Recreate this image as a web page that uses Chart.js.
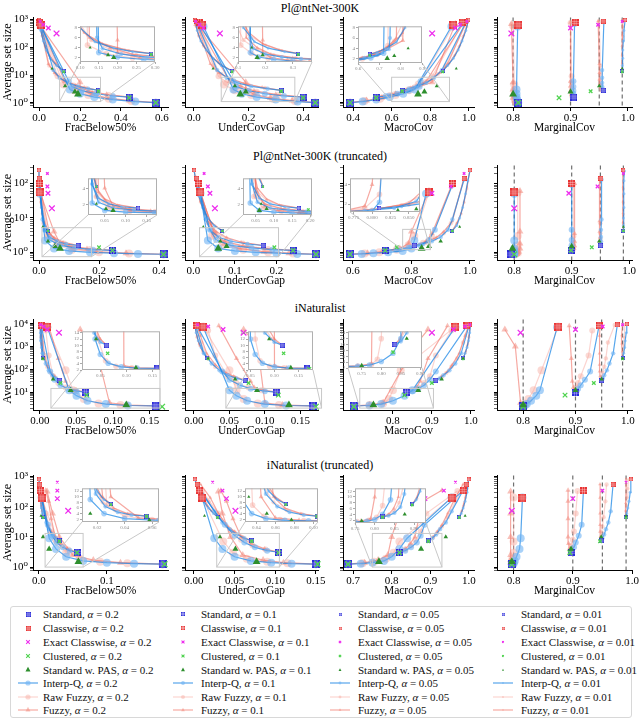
<!DOCTYPE html>
<html>
<head>
<meta charset="utf-8">
<script src="https://cdn.jsdelivr.net/npm/chart.js@4.4.1/dist/chart.umd.min.js"></script>
<style>
  body { margin: 0; background: #fff; }
  #fig { position: relative; width: 640px; height: 719px; overflow: hidden; font-family: 'Liberation Serif', 'DejaVu Serif', serif; }
  #fig canvas { position: absolute; }
  .rowtitle { position: absolute; left: 0; width: 640px; text-align: center; font-size: 12px; line-height: 14px; }
  #legend { position: absolute; left: 10px; top: 606px; width: 622px; height: 112px; border: 1px solid #d8d8d8; border-radius: 3px; box-sizing: border-box; }
  .leg { position: absolute; font-size: 11px; line-height: 12px; white-space: nowrap; color: #111; }
</style>
</head>
<body>
<div id="fig"><div id="legend"></div></div>
<script>
const FONT = "'Liberation Serif', 'DejaVu Serif', serif";

const alphas = [0.2, 0.1, 0.05, 0.01];
const targetCov = [0.8, 0.9, 0.95, 0.99];
const metricNames = ['FracBelow50%', 'UnderCovGap', 'MacroCov', 'MarginalCov'];
const rowTitles = ['Pl@ntNet-300K', 'Pl@ntNet-300K (truncated)', 'iNaturalist', 'iNaturalist (truncated)'];
const legendNames = ['Standard', 'Classwise', 'Exact Classwise', 'Clustered', 'Standard w. PAS', 'Interp-Q', 'Raw Fuzzy', 'Fuzzy'];

// every row: [avg set size, FracBelow50%, UnderCovGap, MacroCov, MarginalCov]
// single methods: one row per alpha (0.2, 0.1, 0.05, 0.01); curves: one list per alpha

// ---- Pl@ntNet-300K
const pnStandard = [[1.0,0.57,0.445,0.385,0.809],[1.6,0.44,0.40,0.52,0.906],[2.8,0.29,0.32,0.655,0.957],[14,0.12,0.14,0.865,0.99]];
const pnClasswise = [[650,0.008,0.03,0.92,0.809],[780,0.004,0.02,0.965,0.908],[880,0.002,0.01,0.985,0.957],[980,0.0,0.004,0.998,0.995]];
const pnExact = [[316,0.085,0.095,0.81,0.797],[500,0.045,0.035,0.93,0.90],[650,0.02,0.02,0.955,0.948],[850,0.005,0.006,0.99,0.99]];
const pnClustered = [[1.0,0.57,0.445,0.385,0.809],[1.5,0.44,0.40,0.52,0.88],[2.6,0.29,0.32,0.655,0.935],[13,0.12,0.14,0.865,0.99]];
const pnPAS = [[2.0,0.19,0.17,0.737,0.80],[2.5,0.175,0.19,0.77,0.90],[4.0,0.127,0.15,0.835,0.95],[17,0.063,0.07,0.935,0.99]];
const pnInterp = [
  [[1.0,0.57,0.445,0.385,0.809],[1.1,0.47,0.38,0.45,0.808],[1.3,0.36,0.30,0.52,0.807],[1.6,0.27,0.23,0.59,0.806],[2.1,0.20,0.175,0.66,0.806],[3.0,0.15,0.145,0.72,0.806],[560,0.01,0.035,0.91,0.808]],
  [[1.6,0.44,0.40,0.52,0.906],[1.75,0.36,0.33,0.57,0.905],[2.1,0.28,0.26,0.63,0.905],[2.7,0.21,0.20,0.69,0.905],[3.8,0.16,0.155,0.745,0.905],[6,0.145,0.145,0.75,0.905],[700,0.004,0.02,0.965,0.907]],
  [[2.8,0.29,0.32,0.655,0.956],[3.2,0.24,0.27,0.69,0.956],[3.9,0.19,0.21,0.73,0.955],[5.2,0.14,0.16,0.78,0.955],[8,0.10,0.12,0.82,0.955],[15,0.07,0.085,0.86,0.955],[800,0.002,0.01,0.985,0.958]],
  [[14,0.12,0.14,0.865,0.99],[22,0.085,0.10,0.89,0.99],[40,0.055,0.07,0.92,0.991],[80,0.035,0.045,0.945,0.991],[170,0.02,0.025,0.965,0.992],[400,0.008,0.012,0.985,0.993],[950,0.0,0.004,0.998,0.995]]
];
const pnRaw = [
  [[1.0,0.57,0.445,0.385,0.806],[1.15,0.45,0.37,0.46,0.804],[1.4,0.34,0.29,0.54,0.803],[1.9,0.24,0.21,0.62,0.802],[2.8,0.17,0.15,0.69,0.802],[4.5,0.12,0.11,0.74,0.802],[600,0.005,0.02,0.92,0.80]],
  [[1.6,0.44,0.40,0.52,0.904],[1.9,0.34,0.31,0.59,0.903],[2.5,0.25,0.23,0.66,0.902],[3.6,0.18,0.17,0.72,0.902],[5.5,0.13,0.12,0.77,0.902],[9,0.09,0.09,0.81,0.902],[760,0.002,0.01,0.97,0.90]],
  [[2.8,0.29,0.32,0.655,0.954],[3.4,0.23,0.26,0.70,0.953],[4.5,0.17,0.20,0.75,0.952],[6.5,0.12,0.14,0.80,0.952],[11,0.08,0.10,0.84,0.952],[22,0.05,0.07,0.88,0.952],[850,0.001,0.008,0.99,0.95]],
  [[14,0.12,0.14,0.865,0.99],[25,0.08,0.095,0.895,0.99],[50,0.05,0.06,0.925,0.99],[110,0.03,0.035,0.95,0.99],[250,0.015,0.018,0.97,0.991],[550,0.005,0.008,0.99,0.992],[980,0.0,0.003,0.998,0.993]]
];
const pnFuzzy = [
  [[1.0,0.57,0.445,0.385,0.806],[1.2,0.44,0.36,0.47,0.803],[1.5,0.33,0.28,0.55,0.80],[2.0,0.26,0.22,0.62,0.80],[3.0,0.20,0.19,0.70,0.80],[5.5,0.20,0.19,0.81,0.80],[700,0.0,0.01,0.93,0.797]],
  [[1.6,0.44,0.40,0.52,0.904],[2.0,0.33,0.30,0.60,0.902],[2.7,0.24,0.22,0.67,0.90],[4.0,0.18,0.17,0.73,0.90],[6.0,0.125,0.13,0.78,0.90],[800,0.0,0.01,0.975,0.90]],
  [[2.8,0.29,0.32,0.655,0.954],[3.6,0.22,0.25,0.71,0.952],[4.8,0.16,0.19,0.76,0.951],[7,0.11,0.14,0.81,0.95],[12,0.075,0.09,0.85,0.95],[25,0.045,0.06,0.89,0.95],[900,0.0,0.006,0.99,0.948]],
  [[14,0.12,0.14,0.865,0.99],[27,0.078,0.09,0.90,0.99],[55,0.048,0.058,0.93,0.99],[120,0.028,0.033,0.955,0.99],[280,0.013,0.016,0.975,0.99],[600,0.004,0.007,0.99,0.99],[1000,0.0,0.002,0.999,0.99]]
];

// ---- Pl@ntNet-300K (truncated)
const ptStandard = [[0.88,0.415,0.295,0.59,0.795],[1.14,0.245,0.24,0.71,0.899],[1.58,0.13,0.168,0.81,0.95],[4.2,0.03,0.07,0.94,0.99]];
const ptClasswise = [[55,0.002,0.017,0.86,0.80],[100,0.001,0.012,0.94,0.90],[140,0.001,0.008,0.98,0.951],[240,0.0,0.002,1.0,0.99]];
const ptExact = [[19,0.043,0.052,0.805,0.80],[52,0.03,0.04,0.87,0.895],[82,0.028,0.035,0.935,0.945],[195,0.028,0.026,0.98,0.99]];
const ptClustered = [[0.88,0.415,0.295,0.59,0.80],[1.14,0.245,0.24,0.71,0.899],[1.4,0.20,0.195,0.75,0.935],[4.2,0.03,0.07,0.94,0.99]];
const ptPAS = [[1.3,0.07,0.06,0.835,0.797],[1.5,0.053,0.08,0.86,0.90],[2.1,0.03,0.065,0.90,0.948],[5.5,0.013,0.024,0.965,0.99]];
const ptInterp = [
  [[0.88,0.415,0.295,0.59,0.80],[0.9,0.33,0.25,0.63,0.80],[0.95,0.25,0.20,0.67,0.80],[1.0,0.17,0.15,0.72,0.80],[1.1,0.10,0.10,0.77,0.80],[1.3,0.05,0.06,0.80,0.80],[2.2,0.02,0.035,0.81,0.80],[50,0.003,0.017,0.85,0.80]],
  [[1.14,0.245,0.24,0.71,0.90],[1.2,0.18,0.19,0.75,0.90],[1.35,0.12,0.14,0.79,0.90],[1.6,0.07,0.09,0.83,0.90],[2.3,0.035,0.055,0.86,0.90],[4.5,0.02,0.04,0.88,0.90],[90,0.001,0.012,0.94,0.90]],
  [[1.58,0.13,0.168,0.81,0.951],[1.75,0.09,0.13,0.84,0.951],[2.1,0.06,0.09,0.87,0.951],[2.8,0.035,0.06,0.90,0.951],[4.5,0.02,0.04,0.925,0.951],[9,0.012,0.03,0.94,0.952],[130,0.001,0.008,0.98,0.952]],
  [[4.2,0.03,0.07,0.94,0.99],[6,0.02,0.05,0.955,0.99],[10,0.013,0.035,0.965,0.99],[20,0.008,0.022,0.975,0.991],[50,0.004,0.012,0.985,0.991],[120,0.002,0.006,0.993,0.991],[230,0.0,0.002,1.0,0.992]]
];
const ptRaw = [
  [[0.88,0.415,0.295,0.59,0.802],[0.92,0.30,0.24,0.64,0.803],[1.0,0.20,0.18,0.69,0.805],[1.2,0.11,0.12,0.75,0.806],[1.6,0.06,0.07,0.79,0.806],[3,0.03,0.045,0.81,0.806],[55,0.002,0.017,0.86,0.806]],
  [[1.14,0.245,0.24,0.71,0.901],[1.25,0.17,0.18,0.76,0.902],[1.45,0.11,0.13,0.80,0.903],[1.9,0.06,0.08,0.84,0.903],[3,0.03,0.05,0.87,0.903],[95,0.001,0.012,0.94,0.903]],
  [[1.58,0.13,0.168,0.81,0.95],[1.9,0.085,0.12,0.85,0.95],[2.5,0.05,0.08,0.88,0.95],[3.6,0.03,0.055,0.91,0.95],[7,0.015,0.035,0.935,0.95],[135,0.001,0.008,0.98,0.95]],
  [[4.2,0.03,0.07,0.94,0.99],[7,0.018,0.045,0.955,0.99],[13,0.011,0.03,0.97,0.99],[28,0.006,0.018,0.98,0.99],[70,0.003,0.009,0.99,0.99],[240,0.0,0.002,1.0,0.99]]
];
const ptFuzzy = [
  [[0.88,0.415,0.295,0.59,0.805],[0.95,0.29,0.23,0.65,0.807],[1.05,0.19,0.17,0.70,0.808],[1.3,0.11,0.11,0.76,0.81],[1.8,0.07,0.075,0.79,0.81],[4,0.05,0.05,0.80,0.81],[60,0.002,0.015,0.86,0.81]],
  [[1.14,0.245,0.24,0.71,0.902],[1.3,0.16,0.17,0.77,0.904],[1.55,0.10,0.12,0.81,0.905],[2.1,0.06,0.075,0.85,0.905],[3.5,0.035,0.05,0.87,0.905],[100,0.001,0.01,0.94,0.905]],
  [[1.58,0.13,0.168,0.81,0.949],[2.0,0.08,0.115,0.85,0.949],[2.7,0.05,0.08,0.885,0.949],[4,0.03,0.055,0.91,0.948],[8,0.015,0.035,0.94,0.948],[150,0.001,0.007,0.98,0.948]],
  [[4.2,0.03,0.07,0.94,0.99],[7.5,0.017,0.043,0.957,0.989],[14,0.01,0.028,0.97,0.989],[30,0.005,0.016,0.98,0.989],[80,0.002,0.008,0.99,0.989],[250,0.0,0.002,1.0,0.989]]
];

// ---- iNaturalist
const inStandard = [[2.5,0.158,0.168,0.70,0.80],[10,0.062,0.116,0.835,0.90],[33,0.027,0.072,0.91,0.95],[300,0.004,0.019,0.98,0.99]];
const inClasswise = [[7400,0.010,0.013,0.96,0.867],[8200,0.002,0.004,0.99,0.945],[8800,0.001,0.002,0.996,0.98],[9500,0.0,0.001,0.999,0.998]];
const inExact = [[4000,0.026,0.07,0.90,0.795],[5500,0.01,0.041,0.955,0.90],[7500,0.005,0.02,0.985,0.952],[9000,0.001,0.005,0.997,0.99]];
const inClustered = [[2.3,0.167,0.172,0.70,0.80],[7.4,0.064,0.119,0.83,0.88],[25,0.028,0.077,0.90,0.935],[290,0.004,0.02,0.98,0.99]];
const inPAS = [[2.7,0.118,0.134,0.75,0.80],[12,0.042,0.089,0.865,0.90],[37,0.018,0.058,0.925,0.95],[300,0.004,0.02,0.98,0.99]];
const inInterp = [
  [[2.5,0.158,0.168,0.70,0.80],[2.6,0.12,0.13,0.74,0.803],[3.0,0.09,0.10,0.77,0.807],[4.2,0.065,0.075,0.80,0.815],[7,0.05,0.06,0.83,0.825],[12,0.04,0.05,0.85,0.832],[7000,0.01,0.013,0.96,0.865]],
  [[10,0.062,0.116,0.835,0.90],[11,0.05,0.10,0.85,0.902],[14,0.038,0.08,0.865,0.905],[20,0.028,0.065,0.88,0.91],[35,0.02,0.05,0.895,0.918],[80,0.014,0.04,0.91,0.928],[8000,0.002,0.004,0.99,0.945]],
  [[33,0.027,0.072,0.91,0.95],[40,0.022,0.06,0.92,0.952],[55,0.017,0.048,0.93,0.955],[90,0.012,0.036,0.945,0.96],[180,0.008,0.025,0.96,0.965],[500,0.004,0.014,0.975,0.972],[8800,0.001,0.002,0.996,0.98]],
  [[300,0.004,0.019,0.98,0.99],[500,0.003,0.014,0.985,0.992],[900,0.002,0.01,0.99,0.994],[1800,0.001,0.006,0.994,0.995],[4000,0.0005,0.003,0.997,0.997],[9500,0.0,0.001,0.999,0.998]]
];
const inRaw = [
  [[2.5,0.158,0.168,0.70,0.80],[2.7,0.11,0.12,0.74,0.802],[3.2,0.08,0.09,0.775,0.805],[5,0.06,0.07,0.79,0.81],[12,0.045,0.06,0.80,0.82],[90,0.035,0.05,0.82,0.835],[7400,0.01,0.013,0.96,0.867]],
  [[10,0.062,0.116,0.835,0.90],[12,0.048,0.095,0.85,0.90],[16,0.035,0.077,0.867,0.902],[25,0.025,0.06,0.88,0.905],[50,0.018,0.047,0.895,0.91],[400,0.012,0.03,0.91,0.925],[5000,0.008,0.02,0.95,0.932]],
  [[33,0.027,0.072,0.91,0.95],[45,0.02,0.057,0.925,0.95],[70,0.015,0.044,0.937,0.952],[130,0.01,0.03,0.95,0.955],[300,0.006,0.02,0.965,0.958],[1500,0.003,0.01,0.98,0.962],[8800,0.001,0.002,0.996,0.975]],
  [[300,0.004,0.019,0.98,0.99],[550,0.003,0.013,0.986,0.991],[1100,0.002,0.008,0.991,0.992],[2500,0.001,0.004,0.995,0.993],[9500,0.0,0.001,0.999,0.994]]
];
const inFuzzy = [
  [[2.5,0.158,0.168,0.70,0.80],[2.7,0.12,0.125,0.74,0.798],[3.4,0.095,0.10,0.775,0.795],[1000,0.076,0.09,0.855,0.785],[5500,0.055,0.07,0.89,0.765]],
  [[10,0.062,0.116,0.835,0.90],[12,0.05,0.10,0.848,0.898],[16,0.04,0.085,0.86,0.896],[30,0.035,0.08,0.87,0.894],[300,0.025,0.06,0.89,0.892],[8000,0.012,0.035,0.94,0.888]],
  [[33,0.027,0.072,0.91,0.948],[50,0.02,0.056,0.925,0.947],[80,0.014,0.042,0.94,0.946],[160,0.01,0.03,0.952,0.946],[500,0.006,0.018,0.97,0.946],[3000,0.003,0.009,0.985,0.946],[9000,0.001,0.003,0.995,0.947]],
  [[300,0.004,0.019,0.98,0.99],[600,0.003,0.012,0.987,0.989],[1300,0.002,0.007,0.992,0.988],[3000,0.001,0.004,0.995,0.988],[9500,0.0,0.001,0.999,0.99]]
];

// ---- iNaturalist (truncated)
const itStandard = [[1.25,0.182,0.15,0.687,0.797],[3.1,0.056,0.104,0.82,0.897],[7.4,0.03,0.071,0.895,0.948],[45,0.006,0.029,0.975,0.99]];
const itClasswise = [[200,0.004,0.01,0.955,0.815],[340,0.002,0.007,0.985,0.918],[540,0.001,0.004,0.993,0.968],[800,0.0,0.001,0.999,0.998]];
const itExact = [[73,0.043,0.051,0.86,0.797],[185,0.027,0.04,0.886,0.90],[340,0.027,0.035,0.935,0.95],[650,0.027,0.023,0.965,0.99]];
const itClustered = [[1.25,0.185,0.152,0.687,0.797],[3.0,0.056,0.104,0.82,0.895],[7.2,0.03,0.071,0.895,0.946],[44,0.006,0.029,0.975,0.99]];
const itPAS = [[1.5,0.058,0.077,0.767,0.797],[4.0,0.015,0.051,0.876,0.897],[10,0.006,0.032,0.94,0.948],[50,0.003,0.013,0.99,0.99]];
const itInterp = [
  [[1.25,0.182,0.15,0.687,0.797],[1.3,0.14,0.12,0.72,0.80],[1.4,0.10,0.095,0.75,0.80],[1.6,0.065,0.07,0.78,0.802],[2.2,0.04,0.05,0.80,0.805],[4,0.025,0.035,0.82,0.81],[9,0.015,0.025,0.84,0.812],[200,0.004,0.01,0.955,0.815]],
  [[3.1,0.056,0.104,0.82,0.897],[3.5,0.045,0.09,0.835,0.898],[4.5,0.035,0.075,0.85,0.902],[6.5,0.026,0.062,0.865,0.905],[11,0.019,0.05,0.875,0.91],[25,0.013,0.038,0.885,0.915],[340,0.002,0.007,0.985,0.918]],
  [[7.4,0.03,0.071,0.895,0.948],[9,0.025,0.062,0.905,0.95],[12,0.02,0.053,0.915,0.953],[18,0.015,0.044,0.925,0.956],[30,0.011,0.035,0.94,0.96],[70,0.007,0.025,0.955,0.964],[540,0.001,0.004,0.993,0.968]],
  [[45,0.006,0.029,0.975,0.99],[60,0.005,0.024,0.98,0.991],[90,0.004,0.018,0.985,0.993],[150,0.003,0.012,0.99,0.995],[300,0.0015,0.007,0.995,0.997],[800,0.0,0.001,0.999,0.998]]
];
const itRaw = [
  [[1.25,0.182,0.15,0.687,0.797],[1.35,0.13,0.115,0.725,0.797],[1.5,0.09,0.09,0.755,0.798],[1.9,0.06,0.065,0.785,0.798],[3,0.04,0.048,0.805,0.80],[7,0.027,0.036,0.82,0.80],[200,0.004,0.01,0.955,0.80]],
  [[3.1,0.056,0.104,0.82,0.897],[3.8,0.043,0.088,0.835,0.897],[5.2,0.033,0.072,0.85,0.898],[8,0.024,0.058,0.862,0.90],[15,0.017,0.045,0.875,0.902],[60,0.01,0.03,0.89,0.905],[330,0.003,0.01,0.97,0.908]],
  [[7.4,0.03,0.071,0.895,0.948],[9.5,0.024,0.06,0.907,0.948],[14,0.019,0.05,0.918,0.949],[22,0.014,0.041,0.93,0.95],[45,0.009,0.03,0.945,0.952],[150,0.005,0.018,0.965,0.955],[540,0.001,0.005,0.99,0.957]],
  [[45,0.006,0.029,0.975,0.99],[70,0.005,0.022,0.981,0.99],[110,0.0035,0.016,0.986,0.991],[200,0.002,0.01,0.991,0.992],[400,0.001,0.005,0.996,0.993],[800,0.0,0.001,0.999,0.994]]
];
const itFuzzy = [
  [[1.25,0.182,0.15,0.687,0.797],[1.4,0.12,0.11,0.73,0.796],[1.7,0.08,0.085,0.765,0.795],[2.5,0.05,0.06,0.79,0.795],[10,0.03,0.045,0.80,0.795],[60,0.02,0.035,0.82,0.795],[320,0.012,0.03,0.87,0.795]],
  [[3.1,0.056,0.104,0.82,0.895],[4,0.042,0.087,0.835,0.894],[6,0.032,0.07,0.848,0.893],[10,0.024,0.058,0.86,0.892],[40,0.018,0.048,0.87,0.892],[150,0.014,0.04,0.88,0.892],[350,0.01,0.033,0.93,0.892]],
  [[7.4,0.03,0.071,0.895,0.947],[10,0.023,0.06,0.907,0.947],[15,0.018,0.05,0.918,0.946],[25,0.013,0.04,0.93,0.946],[60,0.009,0.03,0.945,0.946],[200,0.005,0.02,0.965,0.946],[560,0.002,0.008,0.985,0.946]],
  [[45,0.006,0.029,0.975,0.989],[75,0.0045,0.021,0.982,0.989],[130,0.003,0.015,0.987,0.989],[250,0.002,0.009,0.992,0.99],[500,0.001,0.004,0.996,0.99],[850,0.0,0.001,0.999,0.99]]
];

// tick labels, one list per column
const pnTicks = [['0.0','0.2','0.4','0.6'], ['0.0','0.2','0.4'], ['0.4','0.6','0.8','1.0'], ['0.8','0.9','1.0']];
const ptTicks = [['0.0','0.2','0.4'], ['0.0','0.1','0.2'], ['0.6','0.8','1.0'], ['0.8','0.9','1.0']];
const inTicks = [['0.00','0.05','0.10','0.15'], ['0.00','0.05','0.10','0.15'], ['0.8','0.9','1.0'], ['0.8','0.9','1.0']];
const itTicks = [['0.0','0.1'], ['0.00','0.05','0.10','0.15'], ['0.7','0.8','0.9','1.0'], ['0.8','0.9','1.0']];

// ---- layout (axis ranges, boxes in page pixels)
const colBox = [[33, 168], [185, 318], [343, 474], [497, 632]];
const rowBox = [[17, 107], [165, 260], [319, 410], [475, 570]];
const titleY = [1, 149, 301, 458];

const rows = [
  { d: { standard: pnStandard, classwise: pnClasswise, exact: pnExact, clustered: pnClustered, pas: pnPAS, interp: pnInterp, raw: pnRaw, fuzzy: pnFuzzy },
    y: [0.72, 1180], x: [[-0.03, 0.63], [-0.033, 0.455], [0.348, 1.027], [0.772, 1.007]], ticks: pnTicks,
    insets: [
      { box: [80, 25, 155, 62], x: [0.10, 0.30], y: [1.1, 8.3], xt: ['0.10','0.15','0.20','0.25','0.30'], yt: ['2','4','6','8'] },
      { box: [238, 25, 312, 62], x: [0.1, 0.37], y: [1.1, 8.3], xt: ['0.1','0.2','0.3'], yt: ['2','4','6','8'] },
      { box: [358, 25, 422, 63], x: [0.6, 0.9], y: [1.1, 8.3], xt: ['0.6','0.7','0.8','0.9'], yt: ['2','4','6','8'] }] },
  { d: { standard: ptStandard, classwise: ptClasswise, exact: ptExact, clustered: ptClustered, pas: ptPAS, interp: ptInterp, raw: ptRaw, fuzzy: ptFuzzy },
    y: [0.63, 330], x: [[-0.02, 0.43], [-0.02, 0.30], [0.566, 1.014], [0.77, 1.005]], ticks: ptTicks,
    insets: [
      { box: [88, 177, 157, 215], x: [0.01, 0.175], y: [0.75, 5.2], xt: ['0.05','0.10','0.15'], yt: ['2','4'] },
      { box: [243, 177, 312, 215], x: [0.015, 0.205], y: [0.75, 5.2], xt: ['0.05','0.10','0.15','0.20'], yt: ['2','4'] },
      { box: [350, 177, 420, 212], x: [0.77, 0.865], y: [1.2, 4.65], xt: ['0.775','0.800','0.825','0.850'], yt: ['2','4'] }] },
  { d: { standard: inStandard, classwise: inClasswise, exact: inExact, clustered: inClustered, pas: inPAS, interp: inInterp, raw: inRaw, fuzzy: inFuzzy },
    y: [1.65, 15000], x: [[-0.0095, 0.175], [-0.0127, 0.175], [0.672, 1.008], [0.75, 1.008]], ticks: inTicks,
    insets: [
      { box: [82, 330, 160, 370], x: [0.015, 0.164], y: [2, 14.5], xt: ['0.05','0.10','0.15'], yt: ['2','4','6','8','10','12','14'] },
      { box: [248, 330, 313, 370], x: [0.045, 0.18], y: [2, 14.5], xt: ['0.05','0.10','0.15'], yt: ['2','4','6','8','10','12','14'] },
      { box: [348, 330, 422, 368], x: [0.715, 0.904], y: [2, 14.5], xt: ['0.75','0.80','0.85','0.90'], yt: ['2','4','6','8','10','12','14'] }] },
  { d: { standard: itStandard, classwise: itClasswise, exact: itExact, clustered: itClustered, pas: itPAS, interp: itInterp, raw: itRaw, fuzzy: itFuzzy },
    y: [0.8, 1070], x: [[-0.0088, 0.19], [-0.011, 0.1525], [0.674, 1.013], [0.772, 1.0]], ticks: itTicks,
    insets: [
      { box: [82, 487, 159, 522], x: [0.009, 0.065], y: [1, 13], xt: ['0.02','0.04','0.06'], yt: ['2','4','6','8','10','12'] },
      { box: [245, 487, 318, 522], x: [0.028, 0.105], y: [1, 13], xt: ['0.04','0.06','0.08','0.10'], yt: ['2','4','6','8','10','12'] },
      { box: [355, 487, 426, 523], x: [0.75, 0.93], y: [1, 13], xt: ['0.75','0.80','0.85','0.90'], yt: ['2','4','6','8','10','12'] }] }
];

// ---- styles
const STY = {
  standard: '#2b2bd9', classwise: '#e83333', exact: '#ee2cee', clustered: '#4fd34f', pas: '#2e8f2e',
  interpLine: 'rgba(30,136,229,0.75)', interpPt: 'rgba(110,178,244,0.6)',
  rawLine: 'rgba(247,160,150,0.45)', rawPt: 'rgba(247,170,160,0.45)',
  fuzzyLine: 'rgba(240,112,100,0.6)', fuzzyPt: 'rgba(242,140,128,0.55)'
};
const curveR = [4, 3, 2.2, 1.5];
const hashS = [8, 6.5, 5, 3.5];
const crossR = [4, 3.2, 2.5, 1.8];
const triR = [4.5, 3.5, 2.6, 1.8];

const fig = document.getElementById('fig');
const markerCache = {};

function hashMarker(color, size) {
  const s = Math.max(3, Math.round(size));
  const key = color + s;
  if (markerCache[key]) return markerCache[key];
  const c = document.createElement('canvas');
  c.width = s; c.height = s;
  const g = c.getContext('2d');
  g.fillStyle = color;
  g.fillRect(0, 0, s, s);
  g.strokeStyle = 'rgba(255,255,255,0.45)';
  g.lineWidth = Math.max(0.7, s / 9);
  g.beginPath();
  [0.36, 0.64].forEach(f => {
    g.moveTo(f * s, 0); g.lineTo(f * s, s);
    g.moveTo(0, f * s); g.lineTo(s, f * s);
  });
  g.stroke();
  markerCache[key] = c;
  return c;
}

function addCanvas(left, top, width, height) {
  const c = document.createElement('canvas');
  c.width = width; c.height = height;
  c.style.left = left + 'px'; c.style.top = top + 'px';
  c.style.width = width + 'px'; c.style.height = height + 'px';
  fig.appendChild(c);
  return c;
}

function curveSet(data, line, pt, r, style, order, clip) {
  return { data, showLine: true, borderColor: line, borderWidth: 1.2, backgroundColor: pt,
    pointStyle: style, pointRadius: r, pointBackgroundColor: pt, pointBorderColor: pt,
    pointBorderWidth: 0, order, clip };
}

function markSet(p, style, r, color, bw, order, clip) {
  return { data: [p], showLine: false, pointStyle: style, pointRadius: r,
    pointBackgroundColor: color, pointBorderColor: color, pointBorderWidth: bw, order, clip };
}

function buildDatasets(d, m, k, clip) {
  const pt = p => ({ x: p[m + 1], y: p[0] });
  const out = [];
  alphas.forEach((a, i) => {
    out.push(curveSet(d.raw[i].map(pt), STY.rawLine, STY.rawPt, curveR[i] * k, 'circle', 6, clip));
    out.push(curveSet(d.fuzzy[i].map(pt), STY.fuzzyLine, STY.fuzzyPt, curveR[i] * k, 'triangle', 5, clip));
    out.push(curveSet(d.interp[i].map(pt), STY.interpLine, STY.interpPt, curveR[i] * k, 'circle', 4, clip));
    out.push(markSet(pt(d.standard[i]), hashMarker(STY.standard, hashS[i] * k), hashS[i] * k / 2, STY.standard, 0, 3, clip));
    out.push(markSet(pt(d.classwise[i]), hashMarker(STY.classwise, hashS[i] * k), hashS[i] * k / 2, STY.classwise, 0, 3, clip));
    out.push(markSet(pt(d.exact[i]), 'crossRot', crossR[i] * k, STY.exact, 1.3, 2, clip));
    out.push(markSet(pt(d.clustered[i]), 'crossRot', crossR[i] * k, STY.clustered, 1.3, 1, clip));
    out.push(markSet(pt(d.pas[i]), 'triangle', triR[i] * k, STY.pas, 0, 0, clip));
  });
  return out;
}

const SUP = { '0': '\u2070', '1': '\u00b9', '2': '\u00b2', '3': '\u00b3', '4': '\u2074' };
function isPow10(v) { const e = Math.log10(v); return Math.abs(e - Math.round(e)) < 1e-6; }
function logTicks(min, max) {
  const out = [];
  for (let e = Math.floor(Math.log10(min)); e <= Math.ceil(Math.log10(max)); e++)
    for (let dgt = 1; dgt <= 9; dgt++) {
      const v = dgt * Math.pow(10, e);
      if (v >= min && v <= max) out.push(v);
    }
  return out;
}

const targetLines = {
  id: 'targetLines',
  beforeDatasetsDraw(chart) {
    const { ctx, chartArea, scales } = chart;
    ctx.save();
    ctx.strokeStyle = '#707070'; ctx.lineWidth = 1.2; ctx.setLineDash([4, 3]);
    targetCov.forEach(t => {
      const px = scales.x.getPixelForValue(t);
      ctx.beginPath(); ctx.moveTo(px, chartArea.top); ctx.lineTo(px, chartArea.bottom); ctx.stroke();
    });
    ctx.restore();
  }
};

function zoomMark(ins, left, top) {
  return {
    id: 'zoomMark',
    afterDatasetsDraw(chart) {
      const { ctx, scales } = chart;
      const l = scales.x.getPixelForValue(ins.x[0]), r = scales.x.getPixelForValue(ins.x[1]);
      const t = scales.y.getPixelForValue(ins.y[1]), b = scales.y.getPixelForValue(ins.y[0]);
      ctx.save();
      ctx.strokeStyle = '#c8c8c8'; ctx.lineWidth = 1;
      ctx.strokeRect(l, t, r - l, b - t);
      ctx.beginPath();
      ctx.moveTo(l, b); ctx.lineTo(ins.box[0] - left, ins.box[3] - top);
      ctx.moveTo(r, b); ctx.lineTo(ins.box[2] - left, ins.box[3] - top);
      ctx.stroke();
      ctx.restore();
    }
  };
}

const insetFrame = {
  id: 'insetFrame',
  beforeDatasetsDraw(chart) {
    const { ctx, chartArea: a } = chart;
    ctx.save(); ctx.fillStyle = '#fff';
    ctx.fillRect(a.left, a.top, a.right - a.left, a.bottom - a.top);
    ctx.restore();
  },
  afterDraw(chart) {
    const { ctx, chartArea: a } = chart;
    ctx.save(); ctx.strokeStyle = '#b0b0b0'; ctx.lineWidth = 1;
    ctx.strokeRect(a.left + 0.5, a.top + 0.5, a.right - a.left - 1, a.bottom - a.top - 1);
    ctx.restore();
  }
};

function mainChart(r, m) {
  const row = rows[r];
  const [pl, pr] = colBox[m], [pt, pb] = rowBox[r];
  const yW = m === 0 ? pl : 14;
  const left = pl - yW, top = pt - 8;
  const canvas = addCanvas(left, top, pr - left + 14, pb - top + 29);
  const xt = row.ticks[m];
  const plugins = [];
  if (m === 3) plugins.push(targetLines);
  else plugins.push(zoomMark(row.insets[m], left, top));
  new Chart(canvas, {
    type: 'scatter',
    data: { datasets: buildDatasets(row.d, m, 1, 6) },
    options: {
      responsive: false, animation: false, devicePixelRatio: 1, events: [],
      layout: { padding: { left: 0, top: 8, right: 14, bottom: 0 } },
      plugins: { legend: { display: false }, tooltip: { enabled: false } },
      scales: {
        x: {
          type: 'linear', min: row.x[m][0], max: row.x[m][1],
          afterFit: s => { s.height = 29; },
          afterBuildTicks: s => { s.ticks = xt.map(t => ({ value: parseFloat(t) })); },
          ticks: { autoSkip: false, maxRotation: 0, padding: 1, color: '#000', font: { family: FONT, size: 11 }, callback: (v, i) => xt[i] },
          grid: { drawOnChartArea: false, drawTicks: true, tickLength: 4, tickColor: '#000' },
          border: { display: true, color: '#000', width: 1 },
          title: { display: true, text: metricNames[m], color: '#000', font: { family: FONT, size: 11.5 }, padding: { top: 0, bottom: 1 } }
        },
        y: {
          type: 'logarithmic', min: row.y[0], max: row.y[1],
          afterFit: s => { s.width = yW; },
          afterBuildTicks: s => { s.ticks = logTicks(row.y[0], row.y[1]).map(v => ({ value: v })); },
          ticks: { autoSkip: false, padding: 2, color: '#000', font: { family: FONT, size: 11 },
            callback: v => (m === 0 && isPow10(v)) ? '10' + SUP[String(Math.round(Math.log10(v)))] : '' },
          grid: { drawOnChartArea: false, drawTicks: true, tickLength: 3, tickColor: '#000',
            tickWidth: c => (c.tick && isPow10(c.tick.value)) ? 1 : 0.6 },
          border: { display: true, color: '#000', width: 1 },
          title: { display: m === 0, text: 'Average set size', color: '#000', font: { family: FONT, size: 12 }, padding: { top: 1, bottom: 0 } }
        }
      }
    },
    plugins
  });
}

function insetChart(r, m) {
  const row = rows[r], ins = row.insets[m];
  const [bl, bt, br, bb] = ins.box;
  const canvas = addCanvas(bl - 12, bt - 4, br - bl + 20, bb - bt + 14);
  const small = { family: FONT, size: 5 };
  new Chart(canvas, {
    type: 'scatter',
    data: { datasets: buildDatasets(row.d, m, 0.7, 0) },
    options: {
      responsive: false, animation: false, devicePixelRatio: 1, events: [],
      layout: { padding: { left: 0, top: 4, right: 8, bottom: 0 } },
      plugins: { legend: { display: false }, tooltip: { enabled: false } },
      scales: {
        x: {
          type: 'linear', min: ins.x[0], max: ins.x[1],
          afterFit: s => { s.height = 10; },
          afterBuildTicks: s => { s.ticks = ins.xt.map(t => ({ value: parseFloat(t) })); },
          ticks: { autoSkip: false, maxRotation: 0, padding: 1, color: '#8a8a8a', font: small, callback: (v, i) => ins.xt[i] },
          grid: { drawOnChartArea: false, drawTicks: true, tickLength: 2, tickColor: '#aaa' },
          border: { display: false }
        },
        y: {
          type: 'linear', min: ins.y[0], max: ins.y[1],
          afterFit: s => { s.width = 12; },
          afterBuildTicks: s => { s.ticks = ins.yt.map(t => ({ value: parseFloat(t) })); },
          ticks: { autoSkip: false, padding: 1, color: '#8a8a8a', font: small, callback: (v, i) => ins.yt[i] },
          grid: { drawOnChartArea: false, drawTicks: true, tickLength: 2, tickColor: '#aaa' },
          border: { display: false }
        }
      }
    },
    plugins: [insetFrame]
  });
}

rowTitles.forEach((t, r) => {
  const el = document.createElement('div');
  el.className = 'rowtitle';
  el.style.top = titleY[r] + 'px';
  el.textContent = t;
  fig.appendChild(el);
});

for (let r = 0; r < 4; r++) for (let m = 0; m < 4; m++) mainChart(r, m);
for (let r = 0; r < 4; r++) for (let m = 0; m < 3; m++) insetChart(r, m);

// ---- legend
const legend = document.getElementById('legend');
const legIconX = [17, 172, 329, 492];
const legTextX = [32, 190, 347, 510];
const legRowY = [7, 21, 35, 49, 63, 76, 90, 103];

function drawIcon(g, j, i) {
  const cx = 15, cy = 6;
  const tri = (r, col) => {
    g.fillStyle = col; g.beginPath();
    for (let q = 0; q < 3; q++) {
      const ang = q * 2 * Math.PI / 3;
      const px = cx + Math.sin(ang) * r, py = cy - Math.cos(ang) * r * 1.1;
      if (q === 0) g.moveTo(px, py); else g.lineTo(px, py);
    }
    g.closePath(); g.fill();
  };
  const cross = (r, col) => {
    const s = r * Math.SQRT1_2;
    g.strokeStyle = col; g.lineWidth = 1.1; g.beginPath();
    g.moveTo(cx - s, cy - s); g.lineTo(cx + s, cy + s);
    g.moveTo(cx + s, cy - s); g.lineTo(cx - s, cy + s); g.stroke();
  };
  const line = col => { g.strokeStyle = col; g.lineWidth = 1.2; g.beginPath(); g.moveTo(5, cy); g.lineTo(25, cy); g.stroke(); };
  const dot = (r, col) => { g.fillStyle = col; g.beginPath(); g.arc(cx, cy, r, 0, 2 * Math.PI); g.fill(); };
  const k = 0.65;
  if (j === 0 || j === 1) {
    const img = hashMarker(j === 0 ? STY.standard : STY.classwise, hashS[i] * k);
    g.drawImage(img, Math.round(cx - img.width / 2), Math.round(cy - img.height / 2));
  } else if (j === 2) cross(crossR[i] * k, STY.exact);
  else if (j === 3) cross(crossR[i] * k, STY.clustered);
  else if (j === 4) tri(triR[i] * k, STY.pas);
  else if (j === 5) { line(STY.interpLine); dot(curveR[i] * k, STY.interpPt); }
  else if (j === 6) { line(STY.rawLine); dot(curveR[i] * k, STY.rawPt); }
  else { line(STY.fuzzyLine); tri(curveR[i] * k * 1.1, STY.fuzzyPt); }
}

alphas.forEach((a, i) => {
  legendNames.forEach((name, j) => {
    const c = document.createElement('canvas');
    c.width = 30; c.height = 12;
    c.style.position = 'absolute';
    c.style.left = (legIconX[i] - 15) + 'px';
    c.style.top = (legRowY[j] - 6) + 'px';
    drawIcon(c.getContext('2d'), j, i);
    legend.appendChild(c);
    const t = document.createElement('div');
    t.className = 'leg';
    t.style.left = legTextX[i] + 'px';
    t.style.top = (legRowY[j] - 6) + 'px';
    t.innerHTML = name + ', <i>\u03b1</i> = ' + a;
    legend.appendChild(t);
  });
});
</script>
</body>
</html>
